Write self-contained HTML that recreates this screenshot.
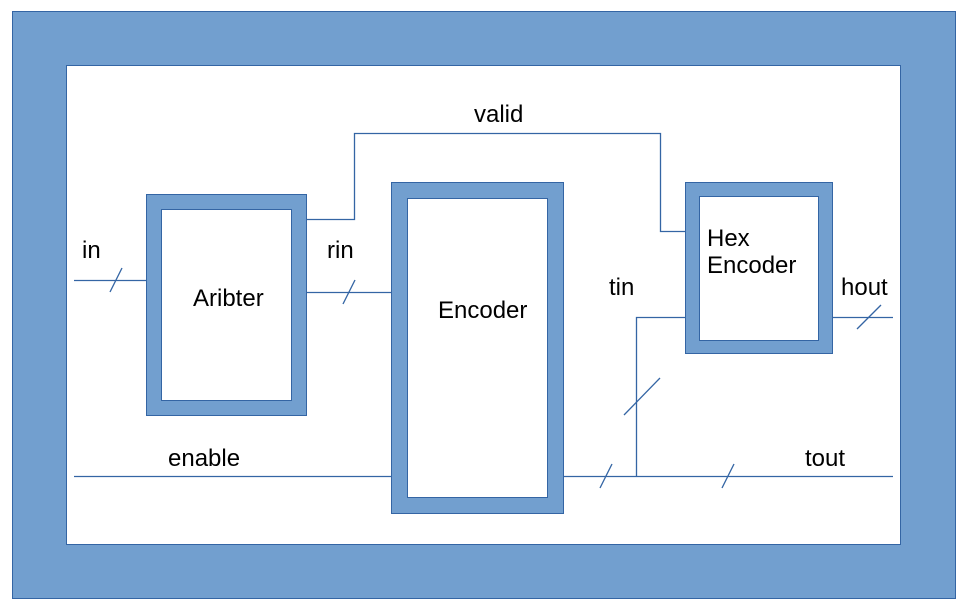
<!DOCTYPE html>
<html><head><meta charset="utf-8"><style>
html,body{margin:0;padding:0;background:#fff;width:968px;height:607px;overflow:hidden}
text{font-family:"Liberation Sans",sans-serif;font-size:24px;fill:#000}
</style></head><body>
<svg width="968" height="607" viewBox="0 0 968 607" xmlns="http://www.w3.org/2000/svg">
<g fill="#729fcf" stroke="#3465a4" stroke-width="1">
<path fill-rule="evenodd" d="M12.5 11.5H955.5V598.5H12.5Z M66.5 65.5V544.5H900.5V65.5Z"/>
<path fill-rule="evenodd" d="M146.5 194.5H306.5V415.5H146.5Z M161.5 209.5V400.5H291.5V209.5Z"/>
<path fill-rule="evenodd" d="M391.5 182.5H563.5V513.5H391.5Z M407.5 198.5V497.5H547.5V198.5Z"/>
<path fill-rule="evenodd" d="M685.5 182.5H832.5V353.5H685.5Z M699.5 196.5V340.5H818.5V196.5Z"/>
</g>
<g fill="none" stroke="#3465a4" stroke-width="1.3">
<path d="M74 280.5H146"/><path d="M110 292L122 268"/>
<path d="M306 292.5H391"/><path d="M343 304L355 280"/>
<path d="M306 219.5H354.5V133.5H660.5V231.5H685"/>
<path d="M74 476.5H391"/>
<path d="M563 476.5H893"/>
<path d="M600 488L612 464"/><path d="M722 488L734 464"/>
<path d="M636.5 476V317.5H685"/>
<path d="M624 415L660 378"/>
<path d="M832 317.5H893"/><path d="M857 329L881 305"/>
</g>
<text x="82" y="258">in</text>
<text x="327" y="258">rin</text>
<text x="474" y="122">valid</text>
<text x="193" y="306">Aribter</text>
<text x="438" y="318">Encoder</text>
<text x="707" y="246">Hex</text>
<text x="707" y="273">Encoder</text>
<text x="609" y="295">tin</text>
<text x="841" y="295">hout</text>
<text x="168" y="466">enable</text>
<text x="805" y="466">tout</text>
</svg>
</body></html>
